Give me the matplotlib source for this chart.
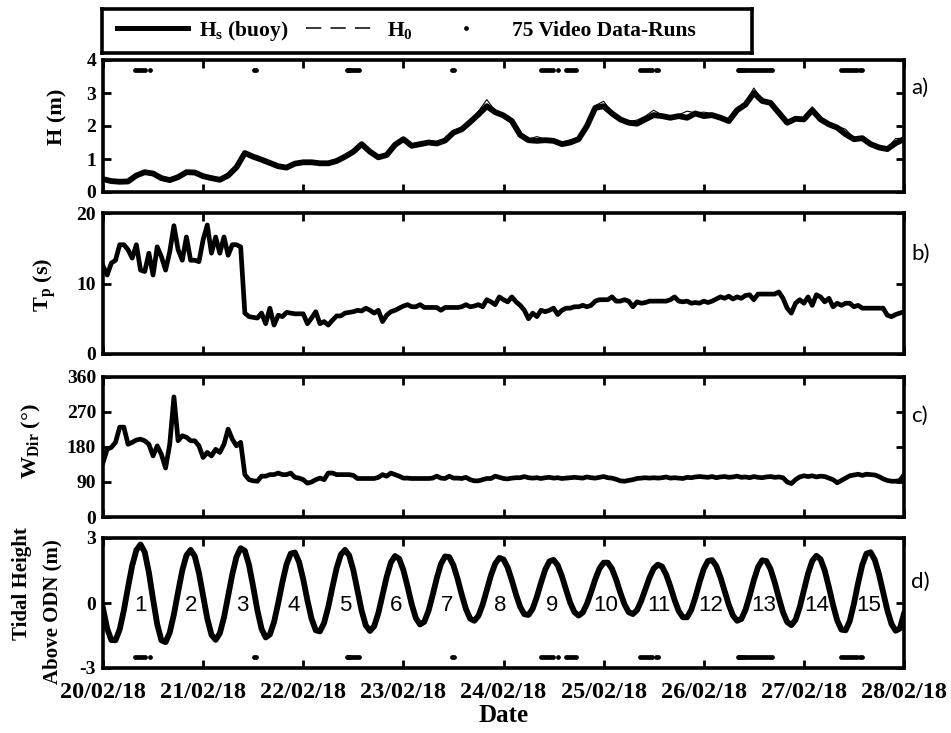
import numpy as np
import matplotlib.pyplot as plt
from matplotlib.lines import Line2D

plt.rcParams['font.family'] = 'Liberation Serif'
plt.rcParams['font.weight'] = 'bold'
plt.rcParams['axes.labelweight'] = 'bold'
plt.rcParams['mathtext.fontset'] = 'custom'
plt.rcParams['mathtext.rm'] = 'Liberation Serif:bold'
plt.rcParams['mathtext.it'] = 'Liberation Serif:bold'
plt.rcParams['mathtext.bf'] = 'Liberation Serif:bold'
plt.rcParams['mathtext.default'] = 'rm'

# wave height (m), every 2 hours from 20/02/18 00:00
hs_buoy = [0.39, 0.33, 0.31, 0.32, 0.50, 0.60, 0.56, 0.42, 0.36, 0.45, 0.60, 0.59,
           0.48, 0.42, 0.37, 0.50, 0.75, 1.18, 1.07, 0.98, 0.88, 0.78, 0.74, 0.86,
           0.90, 0.90, 0.87, 0.87, 0.94, 1.07, 1.22, 1.45, 1.22, 1.05, 1.12, 1.43,
           1.60, 1.40, 1.45, 1.50, 1.47, 1.56, 1.80, 1.90, 2.12, 2.35, 2.60, 2.42,
           2.32, 2.15, 1.73, 1.57, 1.55, 1.57, 1.55, 1.45, 1.50, 1.60, 2.00, 2.55,
           2.60, 2.38, 2.20, 2.10, 2.07, 2.20, 2.33, 2.30, 2.25, 2.30, 2.25, 2.38,
           2.30, 2.33, 2.25, 2.15, 2.48, 2.65, 3.00, 2.76, 2.70, 2.40, 2.10, 2.22,
           2.20, 2.48, 2.20, 2.05, 1.95, 1.75, 1.60, 1.63, 1.45, 1.35, 1.30, 1.48,
           1.60]
h0_deep = [0.41, 0.35, 0.33, 0.34, 0.53, 0.62, 0.58, 0.44, 0.38, 0.47, 0.62, 0.61,
           0.50, 0.44, 0.38, 0.52, 0.78, 1.21, 1.09, 0.99, 0.89, 0.79, 0.75, 0.88,
           0.92, 0.92, 0.88, 0.89, 0.96, 1.09, 1.24, 1.49, 1.24, 1.07, 1.14, 1.47,
           1.64, 1.43, 1.49, 1.53, 1.51, 1.59, 1.84, 1.94, 2.16, 2.45, 2.80, 2.46,
           2.36, 2.18, 1.76, 1.60, 1.68, 1.60, 1.58, 1.50, 1.58, 1.66, 2.05, 2.62,
           2.75, 2.42, 2.24, 2.13, 2.18, 2.30, 2.48, 2.33, 2.30, 2.34, 2.45, 2.40,
           2.42, 2.38, 2.28, 2.18, 2.52, 2.70, 3.15, 2.80, 2.74, 2.44, 2.12, 2.26,
           2.22, 2.58, 2.25, 2.09, 2.00, 1.90, 1.64, 1.66, 1.48, 1.38, 1.33, 1.62,
           1.63]

# peak period (s), hourly
tp = [12.5, 11.2, 12.9, 13.3, 15.5, 15.5, 14.8, 13.6, 15.5, 11.9, 11.7, 14.3,
      11.2, 15.2, 13.8, 11.9, 14.5, 18.2, 14.8, 13.3, 16.6, 13.3, 13.3, 13.1,
      16.2, 18.3, 14.3, 16.6, 14.3, 16.6, 14.0, 15.5, 15.5, 15.2, 5.8, 5.3,
      5.2, 5.1, 5.8, 4.3, 6.5, 4.1, 5.5, 5.3, 5.9, 5.8, 5.7, 5.7,
      5.7, 4.3, 5.1, 6.0, 4.3, 4.6, 4.1, 4.8, 5.4, 5.4, 5.8, 5.9,
      6.0, 6.2, 6.1, 6.5, 6.2, 5.8, 6.2, 4.6, 5.5, 6.0, 6.2, 6.5,
      6.8, 7.0, 6.7, 6.7, 7.0, 6.6, 6.6, 6.6, 6.6, 6.2, 6.6, 6.6,
      6.6, 6.6, 6.7, 7.0, 6.7, 6.8, 7.0, 6.7, 7.7, 7.4, 7.0, 8.1,
      7.7, 7.4, 8.1, 7.4, 6.9, 6.2, 5.0, 5.8, 5.3, 6.2, 6.0, 6.2,
      6.5, 5.6, 6.2, 6.5, 6.5, 6.7, 6.7, 6.9, 6.7, 6.9, 7.5, 7.7,
      7.7, 7.7, 8.1, 7.5, 7.5, 7.7, 7.5, 6.7, 7.4, 7.2, 7.3, 7.5,
      7.5, 7.5, 7.5, 7.5, 7.7, 8.1, 7.5, 7.4, 7.5, 7.2, 7.3, 7.2,
      7.5, 7.3, 7.5, 7.8, 8.1, 7.9, 8.2, 7.8, 8.1, 7.9, 8.3, 8.4,
      7.7, 8.5, 8.5, 8.5, 8.5, 8.5, 8.8, 7.9, 6.5, 5.8, 7.2, 7.7,
      7.2, 8.1, 6.9, 8.4, 8.1, 7.4, 7.9, 6.7, 7.2, 6.9, 7.2, 7.2,
      6.7, 6.9, 6.5, 6.5, 6.5, 6.5, 6.5, 6.5, 5.5, 5.3, 5.6, 5.8,
      6.0]

# wave direction (deg), hourly
wdir = [140, 174, 179, 192, 231, 231, 187, 192, 198, 200, 196, 187,
        157, 183, 161, 126, 187, 309, 196, 209, 205, 196, 196, 183,
        153, 166, 157, 174, 166, 187, 226, 200, 183, 192, 109, 96,
        93, 92, 105, 105, 109, 109, 113, 109, 109, 113, 102, 100,
        96, 87, 90, 96, 100, 96, 113, 113, 109, 109, 109, 109,
        107, 99, 99, 99, 99, 99, 102, 109, 105, 113, 109, 105,
        100, 100, 99, 99, 99, 99, 99, 100, 105, 100, 99, 105,
        100, 100, 99, 102, 96, 93, 93, 96, 99, 99, 105, 102,
        99, 98, 100, 101, 101, 104, 101, 100, 101, 99, 101, 102,
        100, 101, 99, 100, 101, 102, 101, 100, 103, 101, 100, 102,
        104, 101, 100, 97, 93, 92, 94, 96, 99, 100, 101, 100,
        101, 100, 101, 103, 100, 101, 100, 99, 102, 101, 103, 104,
        103, 102, 104, 101, 103, 104, 102, 103, 105, 102, 103, 101,
        104, 102, 101, 103, 104, 102, 103, 101, 90, 86, 96, 103,
        106, 104, 106, 103, 105, 104, 100, 96, 88, 94, 100, 106,
        108, 110, 107, 110, 109, 108, 104, 98, 94, 92, 92, 94,
        108]

# tidal elevation above ODN (m), hourly
tide = [-0.25, -1.18, -1.71, -1.72, -1.22, -0.34, 0.73, 1.73, 2.44, 2.70, 2.35, 1.41,
        0.17, -0.99, -1.72, -1.81, -1.36, -0.52, 0.51, 1.50, 2.20, 2.45, 2.16, 1.38,
        0.32, -0.72, -1.47, -1.70, -1.40, -0.67, 0.32, 1.33, 2.13, 2.53, 2.41, 1.76,
        0.75, -0.33, -1.19, -1.59, -1.45, -0.88, 0.00, 0.96, 1.79, 2.28, 2.33, 1.89,
        1.09, 0.12, -0.73, -1.26, -1.31, -0.92, -0.18, 0.74, 1.61, 2.23, 2.45, 2.20,
        1.52, 0.58, -0.36, -1.04, -1.29, -1.07, -0.47, 0.36, 1.21, 1.87, 2.17, 2.04,
        1.52, 0.76, -0.06, -0.70, -0.99, -0.87, -0.38, 0.35, 1.14, 1.80, 2.15, 2.12,
        1.74, 1.11, 0.38, -0.28, -0.72, -0.82, -0.59, -0.08, 0.60, 1.28, 1.81, 2.08,
        2.01, 1.64, 1.05, 0.39, -0.18, -0.52, -0.55, -0.26, 0.29, 0.94, 1.54, 1.92,
        1.99, 1.74, 1.24, 0.61, 0.01, -0.42, -0.58, -0.44, -0.04, 0.51, 1.10, 1.59,
        1.86, 1.86, 1.58, 1.08, 0.48, -0.06, -0.42, -0.51, -0.33, 0.09, 0.63, 1.17,
        1.59, 1.77, 1.68, 1.31, 0.76, 0.14, -0.37, -0.66, -0.66, -0.32, 0.27, 0.96,
        1.57, 1.94, 1.98, 1.71, 1.19, 0.55, -0.08, -0.58, -0.82, -0.74, -0.32, 0.33,
        1.05, 1.65, 1.97, 1.94, 1.57, 0.96, 0.24, -0.43, -0.88, -1.02, -0.78, -0.20,
        0.58, 1.36, 1.94, 2.18, 2.02, 1.50, 0.73, -0.10, -0.81, -1.23, -1.26, -0.83,
        -0.03, 0.92, 1.76, 2.28, 2.34, 1.99, 1.33, 0.49, -0.33, -0.97, -1.28, -1.18,
        -0.50]

# high water times (h) used to number the tidal cycles
high_water_hours = [9.0, 21.0, 33.3, 45.6, 58.0, 70.2, 82.4, 95.3, 107.7,
                    120.5, 133.2, 145.6, 158.4, 171.1, 183.6]
cycle_labels = [str(i) for i in range(1, 16)]

# start times of the video data-runs (days after 20/02/18 00:00)
video_runs = [0.32, 0.34, 0.36, 0.38, 0.40, 0.42, 0.47,
              1.51, 1.53,
              2.44, 2.45, 2.46, 2.47, 2.48, 2.50, 2.52, 2.54, 2.56,
              3.49, 3.51,
              4.37, 4.39, 4.41, 4.43, 4.45, 4.47, 4.49, 4.54,
              4.62, 4.64, 4.66, 4.68, 4.70, 4.72,
              5.36, 5.38, 5.40, 5.42, 5.44, 5.46, 5.48, 5.52, 5.54,
              6.34, 6.35, 6.36, 6.37, 6.38, 6.39, 6.40, 6.42, 6.44, 6.46, 6.48,
              6.50, 6.52, 6.54, 6.56, 6.58, 6.60, 6.62, 6.64, 6.66, 6.68,
              7.37, 7.39, 7.41, 7.43, 7.45, 7.47, 7.49, 7.51, 7.53, 7.56, 7.58]

date_labels = ['20/02/18', '21/02/18', '22/02/18', '23/02/18', '24/02/18',
               '25/02/18', '26/02/18', '27/02/18', '28/02/18']

t2 = np.arange(0, 193, 2) / 24.0
t1 = np.arange(0, 193, 1) / 24.0
hw = np.array(high_water_hours) / 24.0

fig = plt.figure(figsize=(9.51, 7.33), dpi=100)
W, H = 951.0, 733.0


def add_panel(top, bottom):
    return fig.add_axes([103 / W, 1 - bottom / H, 801 / W, (bottom - top) / H])


ax_a = add_panel(60, 192)
ax_b = add_panel(213, 354)
ax_c = add_panel(377, 517)
ax_d = add_panel(538, 668)
axes = [ax_a, ax_b, ax_c, ax_d]

ax_a.plot(t2, hs_buoy, color='k', lw=4.2, solid_joinstyle='round')
ax_a.plot(t2, h0_deep, color='k', lw=0.8)
ax_a.plot(video_runs, [3.7] * len(video_runs), ls='none', marker='o', ms=2.4, color='k')
ax_a.set_ylim(0, 4)
ax_a.set_yticks([0, 1, 2, 3, 4])
ax_a.set_ylabel('H (m)', fontsize=16)

ax_b.plot(t1, tp, color='k', lw=3.4, solid_joinstyle='round')
ax_b.set_ylim(0, 20)
ax_b.set_yticks([0, 10, 20])
ax_b.set_ylabel(r'T$_{p}$ (s)', fontsize=16)

ax_c.plot(t1, wdir, color='k', lw=3.4, solid_joinstyle='round')
ax_c.set_ylim(0, 360)
ax_c.set_yticks([0, 90, 180, 270, 360])
ax_c.set_ylabel(r'W$_{Dir}$ (°)', fontsize=16)

ax_d.plot(t1, tide, color='k', lw=4.2, solid_joinstyle='round')
ax_d.plot(video_runs, [-2.5] * len(video_runs), ls='none', marker='o', ms=2.4, color='k')
for x, lab in zip(hw, cycle_labels):
    ax_d.text(x, -0.1, lab, ha='center', va='center', fontsize=16,
              family='Liberation Sans', fontweight='normal')
ax_d.set_ylim(-3, 3)
ax_d.set_yticks([-3, 0, 3])
ax_d.set_yticklabels(['-3', '0', '3'])
ax_d.set_xlabel('Date', fontsize=18, labelpad=1)

for ax, letter, ly in zip(axes, ['a)', 'b)', 'c)', 'd)'], [0.79, 0.71, 0.72, 0.66]):
    ax.set_xlim(0, 8)
    ax.set_xticks(range(9))
    ax.tick_params(direction='in', top=True, right=True, length=6, width=2,
                   labelsize=14, pad=5)
    ax.tick_params(axis='x', pad=10)
    for s in ax.spines.values():
        s.set_linewidth(2.6)
    if ax is ax_d:
        ax.set_xticklabels(date_labels, fontsize=17.5)
    else:
        ax.set_xticklabels([])
    ax.text(1.009, ly, letter, transform=ax.transAxes, ha='left', va='center',
            fontsize=16, family='Lato', fontweight='normal')

ax_a.yaxis.set_label_coords(-0.044, 0.57)
ax_b.yaxis.set_label_coords(-0.056, 0.49)
ax_c.yaxis.set_label_coords(-0.075, 0.54)

# two-line label of the tide panel
fig.text(22 / W, 1 - 584 / H, 'Tidal Height', rotation=90, ha='center', va='center',
         fontsize=15, fontweight='bold')
fig.text(52 / W, 1 - 612 / H, 'Above ODN (m)', rotation=90, ha='center', va='center',
         fontsize=15, fontweight='bold')

# legend box above the panels
ax_leg = fig.add_axes([102 / W, 1 - 53 / H, 650 / W, 44 / H])
ax_leg.set_xticks([])
ax_leg.set_yticks([])
for s in ax_leg.spines.values():
    s.set_linewidth(2.6)
handles = [Line2D([], [], color='k', lw=3.6),
           Line2D([], [], color='k', lw=1.1, dashes=(10, 6)),
           Line2D([], [], ls='none', marker='o', ms=2.4, color='k')]
labels = [r'H$_{s}$ (buoy)', r'H$_{0}$', '75 Video Data-Runs']
ax_leg.legend(handles, labels, loc='center left', frameon=False, ncol=3,
              fontsize=15.5, handlelength=3.3, handletextpad=0.5,
              columnspacing=0.8, borderaxespad=0.3)

fig.savefig('out.png', dpi=100)
